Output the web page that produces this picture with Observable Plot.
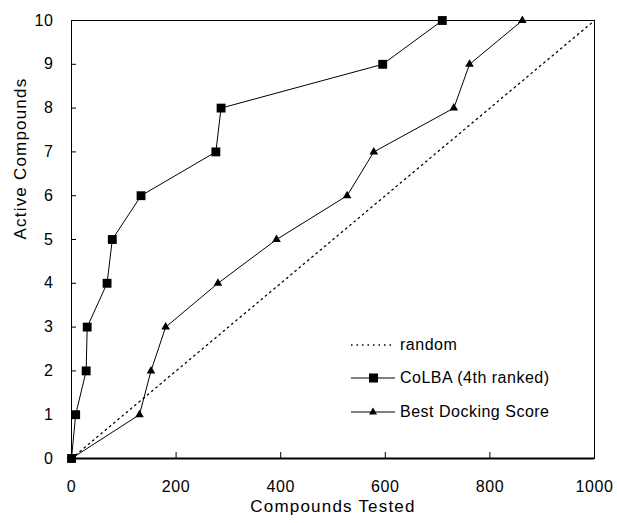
<!DOCTYPE html>
<html><head><meta charset="utf-8">
<script src="https://cdn.jsdelivr.net/npm/d3@7"></script>
<script src="https://cdn.jsdelivr.net/npm/@observablehq/plot@0.6"></script>
<style>
body{margin:0;background:#fff;}
#wrap{position:relative;width:617px;height:523px;font-family:"Liberation Sans",Arial,sans-serif;}
#legend{position:absolute;left:351px;top:328px;font-size:16px;letter-spacing:0.5px;color:#000;}
#legend .row{display:flex;align-items:center;height:33.5px;}
#legend svg{display:block;margin-right:3px;}
</style></head><body><div id="wrap"></div>
<script>
const activeCounts = [0,1,2,3,4,5,6,7,8,9,10];
const colbaTested = [0, 8, 28, 30, 68, 78, 133, 276, 286, 595, 709];
const dockTested  = [0, 130, 152, 180, 280, 392, 527, 578, 731, 761, 862];
const randomTested = [0, 1000];
const randomActive = [0, 10];
const xTicks = [0, 200, 400, 600, 800, 1000];
const yTicks = [0,1,2,3,4,5,6,7,8,9,10];
const seriesNames = ["random", "CoLBA (4th ranked)", "Best Docking Score"];
const axisLabels = ["Compounds Tested", "Active Compounds"];

const colba = colbaTested.map((x,i)=>({x, y: activeCounts[i]}));
const dock = dockTested.map((x,i)=>({x, y: activeCounts[i]}));
const rnd = randomTested.map((x,i)=>({x, y: randomActive[i]}));

const W = 617, H = 523, ML = 71, MR = 23, MT = 20, MB = 65;
const innerW = W - ML - MR, innerH = H - MT - MB;

const chart = Plot.plot({
  width: W, height: H,
  marginLeft: ML, marginRight: MR, marginTop: MT, marginBottom: MB,
  style: {fontFamily: '"Liberation Sans", Arial, sans-serif', fontSize: "16px", background: "#fff", color: "#000"},
  x: {domain: [0, 1000]},
  y: {domain: [0, 10]},
  marks: [
    Plot.frame({stroke: "#000", strokeWidth: 1}),
    Plot.ruleY([0], {stroke: "#000", strokeWidth: 2}),
    Plot.axisX(xTicks, {tickSize: 0, tickPadding: 22, fontSize: 16, tickFormat: d => String(d), label: null}),
    Plot.tickX(xTicks.filter(d => d > 0 && d < 1000), {x: d => d, stroke: "#000", insetTop: innerH - 6}),
    Plot.axisY(yTicks, {tickSize: 0, tickPadding: 18, fontSize: 16, tickFormat: d => String(d), label: null}),
    Plot.tickY(yTicks.filter(d => d > 0 && d < 10), {y: d => d, stroke: "#000", insetRight: innerW - 5}),
    Plot.text([axisLabels[0]], {frameAnchor: "bottom", dy: 53, fontSize: 17, text: d => d}),
    Plot.text([axisLabels[1]], {frameAnchor: "left", dx: -51, rotate: -90, fontSize: 17, text: d => d}),
    Plot.line(rnd, {x: "x", y: "y", stroke: "#000", strokeWidth: 1.3, strokeDasharray: "1.5,4"}),
    Plot.line(colba, {x: "x", y: "y", stroke: "#000", strokeWidth: 1}),
    Plot.dot(colba, {x: "x", y: "y", symbol: "square", r: 5, fill: "#000"}),
    Plot.line(dock, {x: "x", y: "y", stroke: "#000", strokeWidth: 1}),
    Plot.dot(dock, {x: "x", y: "y", symbol: "triangle", r: 3.2, fill: "#000"})
  ]
});
const wrap = document.getElementById("wrap");
wrap.appendChild(chart);
d3.select(chart).selectAll("text").each(function() {
  const t = this.textContent;
  if (axisLabels.includes(t)) this.setAttribute("letter-spacing", "1.2");
  else this.setAttribute("letter-spacing", "0.6");
});

const leg = document.createElement("div");
leg.id = "legend";
const swatches = [
  `<line x1="0" y1="6" x2="44" y2="6" stroke="#000" stroke-width="1.3" stroke-dasharray="1.5,4"/>`,
  `<line x1="0" y1="6" x2="44" y2="6" stroke="#000" stroke-width="1"/><rect x="18" y="1.5" width="9" height="9" fill="#000"/>`,
  `<line x1="0" y1="6" x2="44" y2="6" stroke="#000" stroke-width="1"/><path d="M22,1.5 L26,8.5 L18,8.5 Z" fill="#000"/>`
];
seriesNames.forEach((name, i) => {
  const row = document.createElement("div");
  row.className = "row";
  row.innerHTML = `<svg width="46" height="12">${swatches[i]}</svg><span>${name}</span>`;
  leg.appendChild(row);
});
wrap.appendChild(leg);
</script>
</body></html>
